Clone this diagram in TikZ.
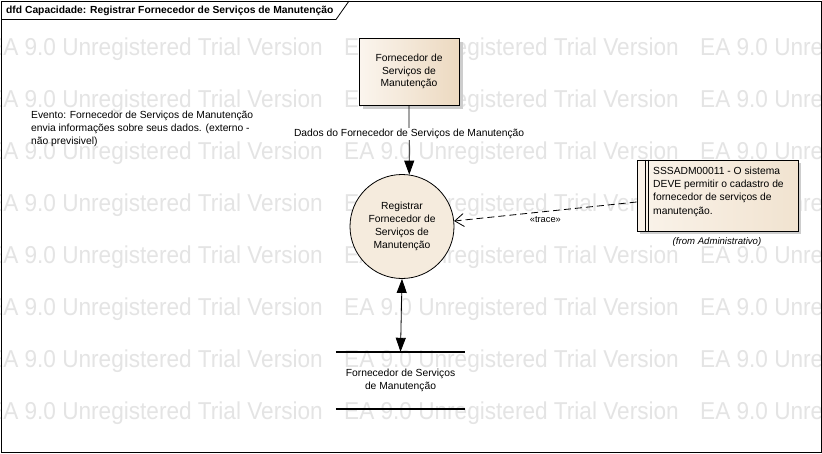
\documentclass[tikz,border=0pt]{standalone}
\usepackage{fontspec}
\setmainfont{Liberation Sans}
\usetikzlibrary{arrows.meta,shadows}
\definecolor{wm}{RGB}{228,228,228}
\definecolor{entA}{RGB}{251,245,238}
\definecolor{entB}{RGB}{236,217,192}
\definecolor{circ}{RGB}{245,235,221}
\definecolor{noteA}{RGB}{250,243,234}
\definecolor{noteB}{RGB}{241,227,208}
\definecolor{shad}{RGB}{205,205,205}
\tikzset{
  lbl/.style={font=\fontsize{10.3}{12.8}\selectfont, inner sep=0pt, align=center},
  wmtext/.style={font=\fontsize{22.6}{24}\selectfont, text=wm, anchor=west, inner sep=0pt, yscale=1.08},
  flowtip/.style={-{Triangle[width=10pt,length=14pt]}},
  bothtip/.style={{Triangle[width=10pt,length=14pt]}-{Triangle[width=10pt,length=14pt]}},
  entity/.style={draw, line width=0.8pt, left color=entA, right color=entB, minimum width=100pt, minimum height=67pt, lbl,
     drop shadow={shadow xshift=4pt, shadow yshift=-4pt, fill=shad, opacity=1}},
  process/.style={circle, draw, line width=0.8pt, fill=circ, minimum size=104pt, lbl},
  notebox/.style={draw, line width=0.8pt, left color=noteA, right color=noteB, minimum width=161pt, minimum height=71pt,
     drop shadow={shadow xshift=3pt, shadow yshift=-3pt, fill=shad, opacity=1}},
  storeline/.style={line width=2pt}
}
\begin{document}
\begin{tikzpicture}[x=1pt,y=-1pt]
\useasboundingbox (0,0) rectangle (822,453);
\fill[white] (0,0) rectangle (822,453);
% watermark
\foreach \r in {0,...,7}{
  \foreach \c in {-12,344,700}{
    \node[wmtext] at (\c,49+52*\r) {EA 9.0 Unregistered Trial Version};
  }
}
% frame
\draw[line width=0.8pt] (1,1) rectangle (821,452);
\draw[line width=0.8pt] (1,19.5) -- (336,19.5) -- (349,1);
\node[lbl, anchor=west, font=\bfseries\fontsize{10.3}{12.8}\selectfont] (title) at (6,10.5) {dfd Capacidade: Registrar Fornecedor de Servi\c{c}os de Manuten\c{c}\~ao};

% external entity
\node[entity] (ent) at (409,71.5) {Fornecedor de\\Servi\c{c}os de\\Manuten\c{c}\~ao};
% process
\node[process] (proc) at (402,226.5) {Registrar\\Fornecedor de\\Servi\c{c}os de\\Manuten\c{c}\~ao};
% data store
\node[lbl, minimum width=129pt, minimum height=57pt] (ds) at (400.5,380.5) {Fornecedor de Servi\c{c}os\\de Manuten\c{c}\~ao};
\draw[storeline] (ds.north west) -- (ds.north east);
\draw[storeline] (ds.south west) -- (ds.south east);
% requirement note
\node[notebox] (note) at (717.5,195.5) {};
\draw[line width=0.8pt] ([xshift=9pt]note.north west) -- ([xshift=9pt]note.south west);
\draw[line width=0.8pt] ([xshift=12pt]note.north west) -- ([xshift=12pt]note.south west);
\node[lbl, anchor=north west, align=left, font=\fontsize{10.3}{13.3}\selectfont] (notetext) at (653,166.5)
  {SSSADM00011 - O sistema\\DEVE permitir o cadastro de\\fornecedor de servi\c{c}os de\\manuten\c{c}\~ao.};
\node[lbl, font=\itshape\fontsize{9.6}{12}\selectfont] (from) at (717,242) {(from Administrativo)};
% event text
\node[lbl, anchor=north west, align=left, font=\fontsize{10.3}{12.8}\selectfont] (event) at (31,111)
  {Evento: Fornecedor de Servi\c{c}os de Manuten\c{c}\~ao\\envia informa\c{c}\~oes sobre seus dados. (externo -\\n\~ao previsivel)};

% connectors
\draw[flowtip, line width=0.8pt] (ent.south) -- node[lbl, pos=0.41, fill=white, inner sep=1pt] (flowlbl) {Dados do Fornecedor de Servi\c{c}os de Manuten\c{c}\~ao} (proc.82.3);
\coordinate (tr) at ([yshift=-6.5pt]note.west);
\draw[dashed, dash pattern=on 7pt off 4pt, line width=0.8pt, -{Straight Barb[length=9pt,width=13pt]}] (tr) -- node[pos=0.5, below=4.5pt, lbl, font=\fontsize{9.3}{11}\selectfont] (trace) {«trace»} (proc.6.6);
\draw[bothtip, line width=0.8pt] (proc.south) -- (ds.north);
\end{tikzpicture}
\end{document}
